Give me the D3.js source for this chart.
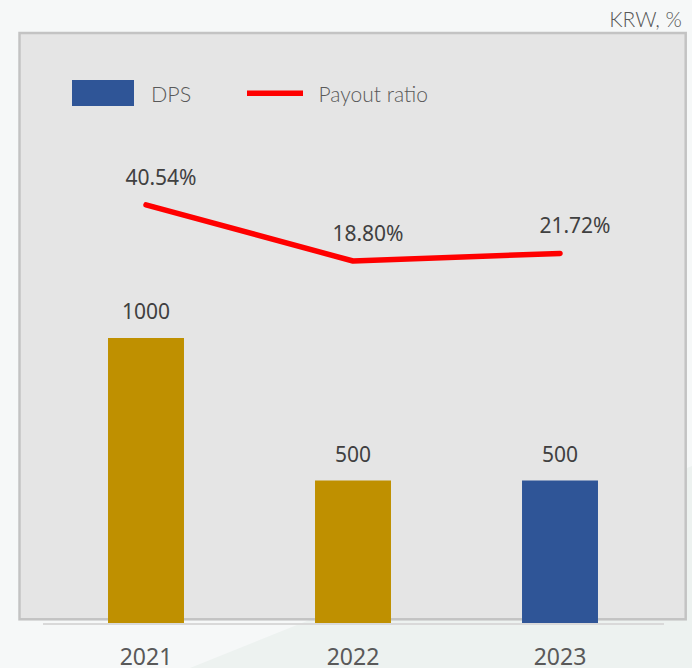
<!DOCTYPE html>
<html>
<head>
<meta charset="utf-8">
<script src="https://cdn.jsdelivr.net/npm/d3@7"></script>
<style>
  html, body { margin: 0; padding: 0; background: #f6f8f8; }
  svg { display: block; }
</style>
</head>
<body>
<div id="chart"></div>
<script>
// ---- data ----
const years = ["2021", "2022", "2023"];
const dps = [1000, 500, 500];
const payoutRatio = [40.54, 18.80, 21.72];
const payoutLabels = ["40.54%", "18.80%", "21.72%"];
const barColors = ["#bf9000", "#bf9000", "#2f5597"];
const legendItems = ["DPS", "Payout ratio"];
const unitLabel = "KRW, %";

const W = 692, H = 668;
const svg = d3.select("#chart").append("svg")
  .attr("width", W).attr("height", H);

// background
svg.append("rect").attr("width", W).attr("height", H).attr("fill", "#f6f8f8");
svg.append("path")
  .attr("d", "M190,668 L692,466 L692,668 Z")
  .attr("fill", "#edf2f0");

// panel
svg.append("rect")
  .attr("x", 19.5).attr("y", 33)
  .attr("width", 666.2).attr("height", 586.3)
  .attr("fill", "#e5e5e5")
  .attr("stroke", "#c3c3c3").attr("stroke-width", 2.5);

// scales
const x = d3.scaleBand().domain(years)
  .range([42.5, 663.5]).paddingInner(0.633).paddingOuter(0.3165);
const yBar = d3.scaleLinear().domain([0, 1000]).range([623, 338]);
const yLine = d3.scaleLinear().domain([0, 50]).range([309.5, 180.5]);
const cx = d => x(d) + x.bandwidth() / 2;

// baseline axis
const axis = svg.append("g").attr("transform", "translate(0,623.5)")
  .call(d3.axisBottom(x).tickSize(0).tickPadding(0).tickFormat(""));
axis.select(".domain").attr("stroke", "#d9d9d9").attr("stroke-width", 2);

// bars
svg.selectAll("rect.bar").data(years).join("rect")
  .attr("class", "bar")
  .attr("x", d => x(d))
  .attr("width", x.bandwidth())
  .attr("y", (d, i) => yBar(dps[i]))
  .attr("height", (d, i) => yBar(0) - yBar(dps[i]))
  .attr("fill", (d, i) => barColors[i]);

// bar labels
svg.selectAll("text.barlab").data(years).join("text")
  .attr("class", "barlab")
  .attr("x", d => cx(d))
  .attr("y", (d, i) => yBar(dps[i]) - 19)
  .attr("text-anchor", "middle")
  .attr("font-family", "'Noto Sans', sans-serif")
  .attr("font-size", 21)
  .attr("fill", "#404040")
  .text((d, i) => dps[i]);

// line
const line = d3.line().x(d => cx(d)).y((d, i) => yLine(payoutRatio[i]));
svg.append("path")
  .datum(years)
  .attr("d", line)
  .attr("fill", "none")
  .attr("stroke", "#ff0000")
  .attr("stroke-width", 5.5)
  .attr("stroke-linejoin", "round")
  .attr("stroke-linecap", "round");

// line labels
svg.selectAll("text.linelab").data(years).join("text")
  .attr("class", "linelab")
  .attr("x", d => cx(d) + 15)
  .attr("y", (d, i) => yLine(payoutRatio[i]) - 20)
  .attr("text-anchor", "middle")
  .attr("font-family", "'Noto Sans', sans-serif")
  .attr("font-size", 21)
  .attr("fill", "#404040")
  .text((d, i) => payoutLabels[i]);

// year labels
svg.selectAll("text.year").data(years).join("text")
  .attr("class", "year")
  .attr("x", d => cx(d))
  .attr("y", 665)
  .attr("text-anchor", "middle")
  .attr("font-family", "'Noto Sans', sans-serif")
  .attr("font-size", 23)
  .attr("fill", "#595959")
  .text(d => d);

// legend
const lg = svg.append("g");
lg.append("rect").attr("x", 72).attr("y", 80).attr("width", 62).attr("height", 26)
  .attr("fill", "#2f5597");
lg.append("text").attr("x", 151).attr("y", 101.5)
  .attr("font-family", "Lato, 'Noto Sans', sans-serif").attr("font-weight", 300)
  .attr("font-size", 21.5).attr("fill", "#595959").text(legendItems[0]);
lg.append("line").attr("x1", 247).attr("x2", 303).attr("y1", 93.3).attr("y2", 93.3)
  .attr("stroke", "#ff0000").attr("stroke-width", 5.5);
lg.append("text").attr("x", 318.5).attr("y", 101.5)
  .attr("font-family", "Lato, 'Noto Sans', sans-serif").attr("font-weight", 300)
  .attr("font-size", 21).attr("fill", "#595959").text(legendItems[1]);

// unit label
svg.append("text").attr("x", 682).attr("y", 26.5)
  .attr("text-anchor", "end")
  .attr("font-family", "Lato, 'Noto Sans', sans-serif").attr("font-weight", 300)
  .attr("font-size", 21).attr("fill", "#595959").text(unitLabel);
</script>
</body>
</html>
